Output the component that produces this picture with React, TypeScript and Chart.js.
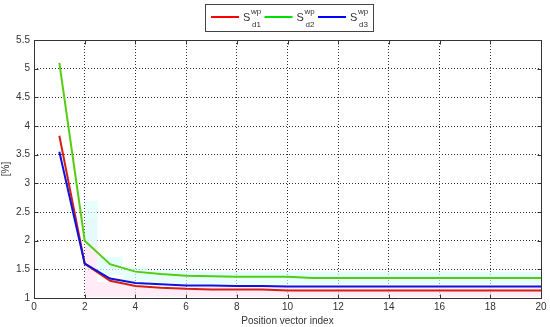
import React, { useEffect, useRef } from "react";
import { Chart, registerables } from "chart.js";

Chart.register(...registerables);

const positions = [1, 2, 3, 4, 5, 6, 7, 8, 9, 10, 11, 12, 13, 14, 15, 16, 17, 18, 19, 20];
const sd1 = [3.83, 1.6, 1.3, 1.21, 1.18, 1.16, 1.15, 1.15, 1.15, 1.13, 1.13, 1.13, 1.13, 1.13, 1.13, 1.13, 1.13, 1.13, 1.13, 1.13];
const sd2 = [5.1, 2.0, 1.59, 1.46, 1.42, 1.39, 1.38, 1.37, 1.37, 1.37, 1.35, 1.35, 1.35, 1.35, 1.35, 1.35, 1.35, 1.35, 1.35, 1.35];
const sd3 = [3.55, 1.6, 1.34, 1.26, 1.24, 1.22, 1.22, 1.21, 1.21, 1.2, 1.2, 1.2, 1.2, 1.2, 1.2, 1.2, 1.2, 1.2, 1.2, 1.2];
const cyanTop = [null, 2.7, 1.72, 1.55, 1.49, 1.47, 1.46, 1.46, 1.46, 1.46, 1.46, 1.46, 1.46, 1.46, 1.46, 1.46, 1.46, 1.46, 1.46, 1.46];
const cyanBottom = [null, 1.9, 1.4, 1.3, 1.27, 1.25, 1.25, 1.25, 1.25, 1.25, 1.25, 1.25, 1.25, 1.25, 1.25, 1.25, 1.25, 1.25, 1.25, 1.25];
const pinkTop = [null, 2.4, 1.28, 1.22, 1.2, 1.2, 1.2, 1.2, 1.2, 1.2, 1.2, 1.2, 1.2, 1.2, 1.2, 1.2, 1.2, 1.2, 1.2, 1.2];
const xTicks = [0, 2, 4, 6, 8, 10, 12, 14, 16, 18, 20];
const yTicks = [1, 1.5, 2, 2.5, 3, 3.5, 4, 4.5, 5, 5.5];
const legendItems = [
  { sub: "d1", color: "#ff0000" },
  { sub: "d2", color: "#00e000" },
  { sub: "d3", color: "#0000ff" },
];

const FONT = "'Liberation Sans', Arial, sans-serif";
const TXT = "#333";

const pts = (ys: (number | null)[]) => positions.map((x, i) => ({ x, y: ys[i] }));

const boxPlugin = {
  id: "boxAndLegend",
  afterDraw(chart: any) {
    const { ctx, chartArea: a } = chart;
    const xs = chart.scales.x;
    const ys = chart.scales.y;
    ctx.save();
    ctx.strokeStyle = "#333";
    ctx.lineWidth = 1;
    ctx.setLineDash([]);
    const L = Math.round(a.left) + 0.5, R = Math.round(a.right) + 0.5;
    const T = Math.round(a.top) + 0.5, B = Math.round(a.bottom) + 0.5;
    ctx.strokeRect(L, T, R - L, B - T);
    // inward tick marks
    ctx.beginPath();
    xTicks.forEach((v) => {
      const px = Math.round(xs.getPixelForValue(v)) + 0.5;
      ctx.moveTo(px, B); ctx.lineTo(px, B - 4);
      ctx.moveTo(px, T); ctx.lineTo(px, T + 4);
    });
    yTicks.forEach((v) => {
      const py = Math.round(ys.getPixelForValue(v)) + 0.5;
      ctx.moveTo(L, py); ctx.lineTo(L + 4, py);
      ctx.moveTo(R, py); ctx.lineTo(R - 4, py);
    });
    ctx.stroke();
    // legend
    const bx = 205, by = 4, bw = 168, bh = 27;
    ctx.fillStyle = "#fff";
    ctx.fillRect(bx, by, bw, bh);
    ctx.strokeStyle = "#444";
    ctx.strokeRect(bx + 0.5, by + 0.5, bw, bh);
    let x = bx + 6;
    legendItems.forEach((it) => {
      ctx.strokeStyle = it.color;
      ctx.lineWidth = 2;
      ctx.beginPath();
      ctx.moveTo(x, 17);
      ctx.lineTo(x + 28, 17);
      ctx.stroke();
      ctx.fillStyle = TXT;
      ctx.textBaseline = "alphabetic";
      ctx.textAlign = "left";
      ctx.font = `11px ${FONT}`;
      ctx.fillText("S", x + 32, 21);
      ctx.font = `8px ${FONT}`;
      ctx.fillText("wp", x + 40, 14);
      ctx.fillText(it.sub, x + 41, 27);
      x += 53.5;
    });
    ctx.restore();
  },
};

export default function App() {
  const ref = useRef<HTMLCanvasElement>(null);
  useEffect(() => {
    document.body.style.margin = "0";
    const ctx = ref.current!.getContext("2d")!;
    const chart = new Chart(ctx, {
      type: "line",
      data: {
        datasets: [
          { label: "S_d1", data: pts(sd1), borderColor: "#d42010", borderWidth: 2, pointRadius: 0, fill: false, order: 3, tension: 0 },
          { label: "S_d3", data: pts(sd3), borderColor: "#1010e0", borderWidth: 2, pointRadius: 0, fill: false, order: 2, tension: 0 },
          { label: "S_d2", data: pts(sd2), borderColor: "#55cc11", borderWidth: 2, pointRadius: 0, fill: false, order: 1, tension: 0 },
          { label: "cyanTop", data: pts(cyanTop), borderWidth: 0, borderColor: "rgba(0,0,0,0)", pointRadius: 0, fill: "+1", backgroundColor: "rgba(220,255,252,0.7)", order: 10, stepped: "middle" as any },
          { label: "cyanBottom", data: pts(cyanBottom), borderWidth: 0, borderColor: "rgba(0,0,0,0)", pointRadius: 0, fill: false, order: 11, stepped: "middle" as any },
          { label: "pinkTop", data: pts(pinkTop), borderWidth: 0, borderColor: "rgba(0,0,0,0)", pointRadius: 0, fill: { value: 1.02 }, backgroundColor: "rgba(255,228,244,0.7)", order: 12, stepped: "middle" as any },
        ],
      },
      options: {
        animation: false,
        responsive: false,
        maintainAspectRatio: false,
        layout: { padding: { left: 0, right: 9, top: 40, bottom: 0 } },
        plugins: { legend: { display: false }, tooltip: { enabled: false } },
        scales: {
          x: {
            type: "linear",
            min: 0,
            max: 20,
            afterBuildTicks: (s: any) => { s.ticks = xTicks.map((v) => ({ value: v })); },
            afterFit: (s: any) => { s.height = 29; s.paddingLeft = 0; s.paddingRight = 0; },
            grid: { color: "#333", drawTicks: false, lineWidth: 1 } as any,
            border: { display: false, dash: [1, 2] } as any,
            ticks: { font: { family: FONT, size: 10 }, color: TXT, padding: 3, maxRotation: 0 },
            title: { display: true, text: "Position vector index", font: { family: FONT, size: 10 }, color: TXT, padding: { top: 1, bottom: 0 } },
          },
          y: {
            type: "linear",
            min: 1,
            max: 5.5,
            afterBuildTicks: (s: any) => { s.ticks = yTicks.map((v) => ({ value: v })); },
            afterFit: (s: any) => { s.width = 34; s.paddingTop = 0; s.paddingBottom = 0; },
            grid: { color: "#333", drawTicks: false, lineWidth: 1 } as any,
            border: { display: false, dash: [1, 2] } as any,
            ticks: { font: { family: FONT, size: 10 }, color: TXT, padding: 4, callback: (v: any) => String(v) },
            title: { display: true, text: "[%]", font: { family: FONT, size: 10 }, color: TXT, padding: { top: 0, bottom: 0 } },
          },
        },
      },
      plugins: [boxPlugin],
    } as any);
    return () => chart.destroy();
  }, []);
  return <canvas ref={ref} width={550} height={327} style={{ display: "block" }} />;
}
